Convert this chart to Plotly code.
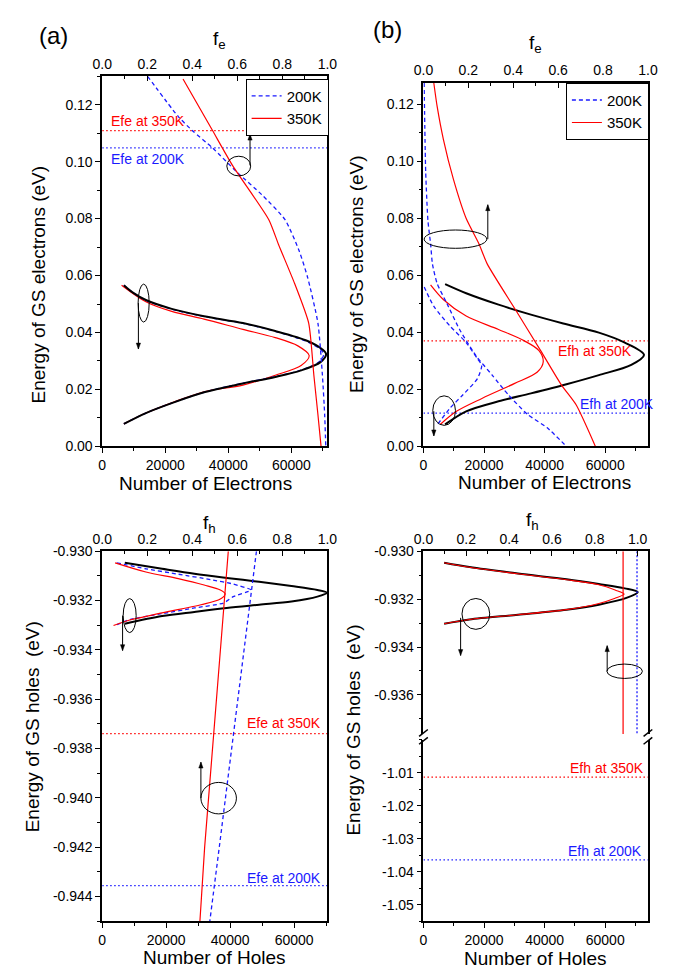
import plotly.graph_objects as go

# ---------------- DATA ----------------
# Panel (a) top: electrons
a_el_black_N = [6870, 13850, 22050, 32300, 44620, 54870, 63080, 69230, 71000, 69740, 65130, 54870, 44620, 32300, 22050, 13850, 9740, 6870]
a_el_black_E = [0.0079, 0.0117, 0.0152, 0.0190, 0.0221, 0.0244, 0.0267, 0.0296, 0.0324, 0.0341, 0.0370, 0.0405, 0.0433, 0.0457, 0.0483, 0.0514, 0.0540, 0.0566]
a_el_200_N = [6870, 13850, 22050, 32300, 44620, 54870, 63080, 68800, 70250, 69000, 64500, 54870, 44620, 32300, 22050, 13850, 9740, 6870]
a_el_200_E = [0.0079, 0.0117, 0.0152, 0.0190, 0.0222, 0.0245, 0.0268, 0.0297, 0.0324, 0.0342, 0.0370, 0.0404, 0.0432, 0.0456, 0.0482, 0.0513, 0.0540, 0.0566]
a_el_350_N = [6870, 13850, 22050, 32300, 44620, 54870, 63080, 65630, 62050, 54870, 44620, 32300, 22050, 13850, 6150]
a_el_350_E = [0.0079, 0.0117, 0.0153, 0.0192, 0.0215, 0.0250, 0.0284, 0.0319, 0.0353, 0.0382, 0.0411, 0.0447, 0.0474, 0.0508, 0.0566]
a_fe_200_E = [0.13, 0.1158, 0.1109, 0.1048, 0.0962, 0.0882, 0.0796, 0.0686, 0.0594, 0.0433, 0.025, 0.0112, 0.0]
a_fe_200_f = [0.201, 0.338, 0.40, 0.49, 0.60, 0.711, 0.812, 0.875, 0.912, 0.958, 0.978, 0.988, 0.993]
a_fe_350_E = [0.129, 0.1109, 0.0985, 0.0796, 0.0709, 0.0571, 0.0433, 0.025, 0.0112, 0.0]
a_fe_350_f = [0.359, 0.490, 0.580, 0.740, 0.783, 0.855, 0.917, 0.940, 0.958, 0.972]
a_Efe_350 = 0.1109
a_Efe_200 = 0.1048

# Panel (b) top: electrons
b_el_black_N = [7150, 14100, 24780, 35470, 47220, 57900, 68590, 72800, 66450, 57900, 46150, 35470, 24780, 14100, 7150]
b_el_black_E = [0.0077, 0.0123, 0.0158, 0.0186, 0.0218, 0.0250, 0.0286, 0.0321, 0.0364, 0.0399, 0.0431, 0.0462, 0.0497, 0.0537, 0.0569]
b_el_350_N = [5540, 10900, 19450, 30130, 37600, 39530, 38140, 33330, 24780, 14100, 6630, 2350]
b_el_350_E = [0.0077, 0.0123, 0.0169, 0.0221, 0.0261, 0.0296, 0.0336, 0.0370, 0.0410, 0.0457, 0.0514, 0.0566]
b_el_200_N = [4800, 8750, 13040, 17850, 19230, 17850, 14100, 8750, 3430, 200]
b_el_200_E = [0.0079, 0.0134, 0.0181, 0.0238, 0.0284, 0.0307, 0.0364, 0.0422, 0.0491, 0.0560]
b_fe_350_E = [0.1275, 0.1192, 0.1076, 0.0938, 0.0800, 0.0709, 0.0640, 0.0479, 0.0336, 0.0215, 0.0146, 0.0]
b_fe_350_f = [0.046, 0.061, 0.089, 0.133, 0.190, 0.248, 0.284, 0.410, 0.522, 0.615, 0.68, 0.766]
b_fe_200_E = [0.1275, 0.0962, 0.0791, 0.0709, 0.0640, 0.0571, 0.0502, 0.0410, 0.0319, 0.0250, 0.0181, 0.0112, 0.0066, 0.0]
b_fe_200_f = [0.003, 0.010, 0.020, 0.032, 0.040, 0.061, 0.104, 0.161, 0.233, 0.306, 0.378, 0.464, 0.550, 0.637]
b_Efh_350 = 0.0370
b_Efh_200 = 0.0117

# Panel (a) bottom: holes
c_h_black_N = [7070, 18720, 28830, 38940, 49070, 59180, 67280, 70310, 67280, 59180, 49070, 38940, 28830, 18720, 7070]
c_h_black_E = [-0.93047, -0.93071, -0.93091, -0.93108, -0.93124, -0.93141, -0.93157, -0.93168, -0.93184, -0.93204, -0.93217, -0.93230, -0.93246, -0.93263, -0.93294]
c_h_350_N = [4040, 13660, 23770, 31870, 36930, 38450, 36930, 30870, 18720, 8600, 3540]
c_h_350_E = [-0.93047, -0.93084, -0.93111, -0.93137, -0.93157, -0.93173, -0.93194, -0.93217, -0.93250, -0.93279, -0.93301]
c_h_200_N = [4550, 13660, 23770, 33900, 40970, 46530, 40970, 37940, 28830, 18720, 8600, 4040]
c_h_200_E = [-0.93047, -0.93071, -0.93093, -0.93115, -0.93133, -0.93157, -0.93184, -0.93210, -0.93230, -0.93253, -0.93277, -0.93301]
c_fh_E = [-0.930, -0.932, -0.934, -0.936, -0.938, -0.940, -0.942, -0.944, -0.945]
c_fh_350 = [0.560, 0.542, 0.525, 0.508, 0.490, 0.472, 0.455, 0.441, 0.434]
c_fh_200 = [0.685, 0.658, 0.631, 0.604, 0.576, 0.548, 0.520, 0.492, 0.478]
c_Efe_350 = -0.9374
c_Efe_200 = -0.94356

# Panel (b) bottom: holes
d_h_black_N = [6830, 15170, 31190, 47220, 57900, 66450, 70730, 67000, 57900, 47220, 31190, 15170, 6830]
d_h_black_E = [-0.93048, -0.93066, -0.93093, -0.93117, -0.93137, -0.93155, -0.93171, -0.93195, -0.93223, -0.93244, -0.93265, -0.93285, -0.93303]
d_h_350_N = [6830, 15170, 31190, 47220, 57900, 63250, 66250, 63250, 57900, 47220, 31190, 15170, 6830]
d_h_350_E = [-0.93048, -0.93067, -0.93094, -0.93119, -0.93140, -0.93162, -0.93179, -0.93196, -0.93218, -0.93244, -0.93265, -0.93285, -0.93303]
d_fh_E = [-0.930, -0.9377]
d_fh_350 = [0.932, 0.932]
d_fh_200 = [0.997, 0.997]
d_Efh_350 = -1.0113
d_Efh_200 = -1.0364

# tick labels
el_E_ticks = [0.00, 0.02, 0.04, 0.06, 0.08, 0.10, 0.12]
el_E_text = ["0.00", "0.02", "0.04", "0.06", "0.08", "0.10", "0.12"]
h_E_ticks = [-0.930, -0.932, -0.934, -0.936, -0.938, -0.940, -0.942, -0.944]
h_E_text = ["-0.930", "-0.932", "-0.934", "-0.936", "-0.938", "-0.940", "-0.942", "-0.944"]
hb_up_ticks = [-0.930, -0.932, -0.934, -0.936]
hb_up_text = ["-0.930", "-0.932", "-0.934", "-0.936"]
hb_lo_ticks = [-1.01, -1.02, -1.03, -1.04, -1.05]
hb_lo_text = ["-1.01", "-1.02", "-1.03", "-1.04", "-1.05"]
N_ticks = [0, 20000, 40000, 60000]
f_ticks = [0.0, 0.2, 0.4, 0.6, 0.8, 1.0]
f_text = ["0.0", "0.2", "0.4", "0.6", "0.8", "1.0"]

# ---------------- LAYOUT HELPERS ----------------
W, H = 679, 977
def PX(x):
    return x / W
def PY(y):
    return 1 - y / H

FONT = "Liberation Sans, Arial, sans-serif"
RED = "#ff0000"
BLUE = "#1a1aff"
DASH = "4px,3px"
DOT = "1.5px,2.5px"

A_X = [PX(95), PX(327)]
B_X = [PX(426), PX(657.3)]
A_TOP = [PY(445.7), PY(69.3)]
B_TOP = [PY(445.7), PY(76)]
A_BOT = [PY(928.3), PY(552.3)]
B_UP = [PY(738), PY(552.3)]
B_LO = [PY(928.3), PY(744)]

fig = go.Figure()

def line(x, y, xa, ya, color, width, dash=None, name=None, legend=None, show=False, smooth=0.0):
    ln = dict(color=color, width=width, dash=dash)
    if smooth > 0:
        ln.update(shape="spline", smoothing=smooth)
    fig.add_trace(go.Scatter(x=x, y=y, xaxis=xa, yaxis=ya, mode="lines",
                             line=ln, name=name, showlegend=show, legend=legend,
                             hoverinfo="skip"))

S = 0.9
SF = 0.6
# Panel (a) top
line([0, 71400], [a_Efe_350] * 2, "x", "y", RED, 1.2, DOT)
line([0, 71400], [a_Efe_200] * 2, "x", "y", BLUE, 1.2, DOT)
line(a_el_350_N, a_el_350_E, "x", "y", RED, 1.2, smooth=S)
line(a_el_200_N, a_el_200_E, "x", "y", BLUE, 1.3, DASH, smooth=S)
line(a_el_black_N, a_el_black_E, "x", "y", "black", 2, smooth=S)
line(a_fe_200_f, a_fe_200_E, "x2", "y", BLUE, 1.3, DASH, "200K", "legend", True, smooth=SF)
line(a_fe_350_f, a_fe_350_E, "x2", "y", RED, 1.2, None, "350K", "legend", True, smooth=SF)

# Panel (b) top
line([0, 74100], [b_Efh_350] * 2, "x3", "y2", RED, 1.2, DOT)
line([0, 74100], [b_Efh_200] * 2, "x3", "y2", BLUE, 1.2, DOT)
line(b_el_black_N, b_el_black_E, "x3", "y2", "black", 2, smooth=S)
line(b_el_350_N, b_el_350_E, "x3", "y2", RED, 1.2, smooth=S)
line(b_el_200_N, b_el_200_E, "x3", "y2", BLUE, 1.3, DASH, smooth=SF)
line(b_fe_200_f, b_fe_200_E, "x4", "y2", BLUE, 1.3, DASH, "200K", "legend2", True, smooth=SF)
line(b_fe_350_f, b_fe_350_E, "x4", "y2", RED, 1.2, None, "350K", "legend2", True, smooth=SF)

# Panel (a) bottom
line([0, 70400], [c_Efe_350] * 2, "x5", "y3", RED, 1.2, DOT)
line([0, 70400], [c_Efe_200] * 2, "x5", "y3", BLUE, 1.2, DOT)
line(c_h_black_N, c_h_black_E, "x5", "y3", "black", 2, smooth=S)
line(c_h_200_N, c_h_200_E, "x5", "y3", BLUE, 1.3, DASH, smooth=0.5)
line(c_h_350_N, c_h_350_E, "x5", "y3", RED, 1.2, smooth=S)
line(c_fh_350, c_fh_E, "x6", "y3", RED, 1.2)
line(c_fh_200, c_fh_E, "x6", "y3", BLUE, 1.3, DASH)

# Panel (b) bottom
line(d_h_black_N, d_h_black_E, "x7", "y4", "black", 2, smooth=S)
line(d_h_350_N, d_h_350_E, "x7", "y4", RED, 1.1, smooth=S)
line(d_fh_350, d_fh_E, "x8", "y4", RED, 1.2)
line(d_fh_200, d_fh_E, "x8", "y4", BLUE, 1.3, "2px,2px")
line([0, 74100], [d_Efh_350] * 2, "x7", "y5", RED, 1.2, DOT)
line([0, 74100], [d_Efh_200] * 2, "x7", "y5", BLUE, 1.2, DOT)

TF = dict(family=FONT, size=14, color="black")
base = dict(showline=True, linecolor="black", linewidth=1.5, showgrid=False,
            zeroline=False, ticks="outside", ticklen=5, tickwidth=1.2,
            tickcolor="black", tickfont=TF)

def xN(domain, anchor, rng):
    return dict(base, domain=domain, anchor=anchor, range=rng, tickmode="array",
                tickvals=N_ticks, ticktext=[str(v) for v in N_ticks],
                minor=dict(ticks="outside", ticklen=3, tickcolor="black", dtick=10000, tick0=0))

def xF(over, anchor, rng):
    return dict(base, overlaying=over, anchor=anchor, side="top", range=rng,
                tickmode="array", tickvals=f_ticks, ticktext=f_text, ticks="inside",
                minor=dict(ticks="inside", ticklen=3, tickcolor="black", dtick=0.1, tick0=0))

def yE(domain, anchor, rng, tv, tt, mdt, m0):
    return dict(base, domain=domain, anchor=anchor, range=rng, mirror=True,
                tickmode="array", tickvals=tv, ticktext=tt,
                minor=dict(ticks="outside", ticklen=3, tickcolor="black", dtick=mdt, tick0=m0))

layout = dict(
    width=W, height=H, margin=dict(l=0, r=0, t=0, b=0),
    paper_bgcolor="white", plot_bgcolor="rgba(0,0,0,0)",
    font=dict(family=FONT, color="black"),
    xaxis=xN(A_X, "y", [0, 71400]),
    xaxis2=xF("x", "y", [0, 1]),
    yaxis=yE(A_TOP, "x", [0, 0.13], el_E_ticks, el_E_text, 0.01, 0),
    xaxis3=xN(B_X, "y2", [0, 74100]),
    xaxis4=xF("x3", "y2", [0, 1]),
    yaxis2=yE(B_TOP, "x3", [0, 0.1275], el_E_ticks, el_E_text, 0.01, 0),
    xaxis5=xN(A_X, "y3", [0, 70400]),
    xaxis6=xF("x5", "y3", [0, 1]),
    yaxis3=yE(A_BOT, "x5", [-0.945, -0.930], h_E_ticks, h_E_text, 0.001, -0.930),
    xaxis7=xN(B_X, "y5", [0, 74100]),
    xaxis8=xF("x7", "y4", [0, 1.048]),
    yaxis4=yE(B_UP, "x7", [-0.93763, -0.930], hb_up_ticks, hb_up_text, 0.001, -0.930),
    yaxis5=yE(B_LO, "x7", [-1.055, -1.0], hb_lo_ticks, hb_lo_text, 0.005, -1.0),
    legend=dict(x=PX(328.3), y=PY(71.7), xanchor="right", yanchor="top",
                bordercolor="black", borderwidth=1, bgcolor="white",
                font=dict(family=FONT, size=15, color="black"), tracegroupgap=0),
    legend2=dict(x=PX(658.3), y=PY(76), xanchor="right", yanchor="top",
                 bordercolor="black", borderwidth=1, bgcolor="white",
                 font=dict(family=FONT, size=15, color="black"), tracegroupgap=0),
)
fig.update_layout(**layout)

ann = []
def text(x, y, s, size=19, color="black", xanchor="center", angle=0):
    ann.append(dict(x=PX(x), y=PY(y), xref="paper", yref="paper", text=s,
                    showarrow=False, xanchor=xanchor, yanchor="middle", textangle=angle,
                    font=dict(family=FONT, size=size, color=color)))

# panel labels and titles
text(44.5, 27.5, "(a)", 24)
text(388.5, 22, "(b)", 24)
text(216, 33, "f<sub>e</sub>", 19)
text(541, 37, "f<sub>e</sub>", 19)
text(206, 525, "f<sub>h</sub>", 19)
text(538, 522, "f<sub>h</sub>", 19)
text(201.5, 483, "Number of Electrons", 19)
text(551, 482, "Number of Electrons", 19)
text(211, 965, "Number of Holes", 19)
text(541, 966, "Number of Holes", 19)
text(29, 281, "Energy of GS electrons (eV)", 19, angle=-90)
text(357, 270, "Energy of GS electrons (eV)", 19, angle=-90)
text(23, 731, "Energy of GS holes  (eV)", 19, angle=-90)
text(354, 734, "Energy of GS holes  (eV)", 19, angle=-90)

# Fermi level labels
text(102, 115, "Efe at 350K", 14, RED, "left")
text(102, 154, "Efe at 200K", 14, BLUE, "left")
text(562.7, 348.3, "Efh at 350K", 14, RED, "left")
text(585, 402.7, "Efh at 200K", 14, BLUE, "left")
text(323, 726.7, "Efe at 350K", 14, RED, "right")
text(323, 884, "Efe at 200K", 14, BLUE, "right")
text(655, 772.7, "Efh at 350K", 14, RED, "right")
text(653.3, 856.7, "Efh at 200K", 14, BLUE, "right")
fig.update_layout(annotations=ann)

shapes = []
def ellipse(cx, cy, rx, ry):
    shapes.append(dict(type="circle", xref="paper", yref="paper",
                       x0=PX(cx - rx), x1=PX(cx + rx), y0=PY(cy + ry), y1=PY(cy - ry),
                       line=dict(color="black", width=1)))

def arrow(x, yhead, ytail):
    shapes.append(dict(type="line", xref="paper", yref="paper",
                       x0=PX(x), x1=PX(x), y0=PY(ytail), y1=PY(yhead),
                       line=dict(color="black", width=1)))
    d = 6 if ytail > yhead else -6
    path = "M {:.5f},{:.5f} L {:.5f},{:.5f} L {:.5f},{:.5f} Z".format(
        PX(x - 2.2), PY(yhead + d), PX(x), PY(yhead), PX(x + 2.2), PY(yhead + d))
    shapes.append(dict(type="path", xref="paper", yref="paper", path=path,
                       fillcolor="black", line=dict(color="black", width=0.5)))

ellipse(235.7, 160.7, 12.3, 10)
ellipse(137.7, 300, 5.7, 19.3)
ellipse(459, 235, 32.3, 9.3)
ellipse(447.3, 409.3, 11.7, 15)
ellipse(123.3, 617.7, 6.7, 17.3)
ellipse(215, 803.3, 18.3, 16)
ellipse(480, 616, 14.3, 15.7)
ellipse(633.3, 674.3, 18.3, 7.3)

arrow(247.3, 128.3, 160)
arrow(132.3, 346.7, 300)
arrow(492.3, 200, 235)
arrow(436.7, 435, 410)
arrow(116, 653.3, 617.7)
arrow(196.7, 766.7, 803.3)
arrow(464.3, 658.3, 620)
arrow(615.3, 648.3, 674.3)

# axis break marks
for bx in (426, 657.3):
    for by in (737, 745):
        shapes.append(dict(type="line", xref="paper", yref="paper",
                           x0=PX(bx - 4.5), y0=PY(by + 3.5), x1=PX(bx + 4.5), y1=PY(by - 3.5),
                           line=dict(color="black", width=1.5)))
fig.update_layout(shapes=shapes)

fig.write_html("out.html")
